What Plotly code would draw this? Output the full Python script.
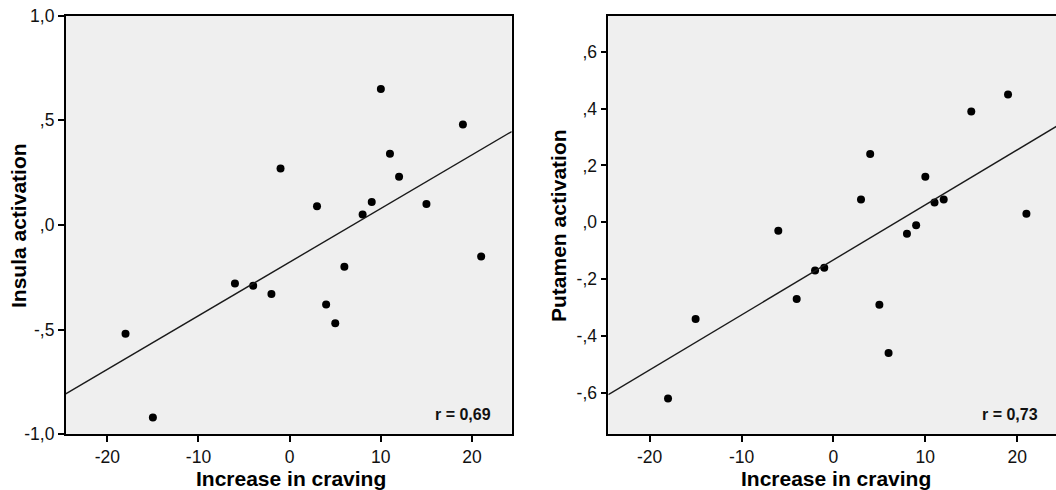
import numpy as np
import plotly.graph_objects as go

# ---- data ----
craving = [-18, -15, -6, -4, -2, -1, 3, 4, 5, 6, 8, 9, 10, 11, 12, 15, 19, 21]
insula = [-0.52, -0.92, -0.28, -0.29, -0.33, 0.27, 0.09, -0.38, -0.47, -0.20,
          0.05, 0.11, 0.65, 0.34, 0.23, 0.10, 0.48, -0.15]
putamen = [-0.62, -0.34, -0.03, -0.27, -0.17, -0.16, 0.08, 0.24, -0.29, -0.46,
           -0.04, -0.01, 0.16, 0.07, 0.08, 0.39, 0.45, 0.03]

x_ticks = [-20, -10, 0, 10, 20]
x_ticktext = ["-20", "-10", "0", "10", "20"]
ins_ticks = [-1.0, -0.5, 0.0, 0.5, 1.0]
ins_ticktext = ["-1,0", "-,5", ",0", ",5", "1,0"]
put_ticks = [-0.6, -0.4, -0.2, 0.0, 0.2, 0.4, 0.6]
put_ticktext = ["-,6", "-,4", "-,2", ",0", ",2", ",4", ",6"]

r_labels = ["r = 0,69", "r = 0,73"]
x_title = "Increase in craving"
y_titles = ["Insula activation", "Putamen activation"]

# ---- layout constants ----
W, H = 1056, 490
FONT = "Liberation Sans, Arial, Helvetica, sans-serif"
x1_range = [-24.56, 24.35]
x2_range = [-24.5, 24.22]
x2_full_end = 24.45
y1_range = [-1.0, 1.0]
y2_range = [-0.746, 0.727]

fig = go.Figure()

def add_panel(y, xa, ya, xr, xr_end):
    fig.add_trace(go.Scatter(
        x=craving, y=y, mode="markers", xaxis=xa, yaxis=ya,
        marker=dict(color="black", size=8, line=dict(width=0)),
        showlegend=False, hoverinfo="x+y"))
    slope, intercept = np.polyfit(craving, y, 1)
    xs = np.array([xr[0], xr_end])
    fig.add_trace(go.Scatter(
        x=xs, y=slope * xs + intercept, mode="lines", xaxis=xa, yaxis=ya,
        line=dict(color="#1a1a1a", width=1.4), showlegend=False,
        hoverinfo="skip"))

add_panel(insula, "x", "y", x1_range, x1_range[1])
add_panel(putamen, "x2", "y2", x2_range, x2_full_end)

axis_common = dict(
    showgrid=False, zeroline=False, showline=True, linecolor="black",
    linewidth=1.6, ticks="outside", ticklen=6, tickwidth=1.6,
    tickcolor="black", tickfont=dict(family=FONT, size=17.5, color="#111"),
    automargin=False,
)

ydom = [55.7 / H, 474.3 / H]

fig.update_layout(
    width=W, height=H,
    margin=dict(l=0, r=0, t=0, b=0, pad=0, autoexpand=False),
    paper_bgcolor="white",
    plot_bgcolor="#efefef",
    xaxis=dict(domain=[65.7 / W, 511.7 / W], range=x1_range,
               tickvals=x_ticks, ticktext=x_ticktext, mirror=True,
               anchor="y", **axis_common),
    yaxis=dict(domain=ydom, range=y1_range, tickvals=ins_ticks,
               ticktext=ins_ticktext, mirror=True, anchor="x",
               **axis_common),
    xaxis2=dict(domain=[608.3 / W, 1.0], range=x2_range,
                tickvals=x_ticks, ticktext=x_ticktext, mirror=True,
                anchor="y2", **axis_common),
    yaxis2=dict(domain=ydom, range=y2_range, tickvals=put_ticks,
                ticktext=put_ticktext, mirror=False, anchor="x2",
                **axis_common),
)

title_font = dict(family=FONT, size=21, color="black", weight="bold")

fig.add_annotation(text=x_title, xref="paper", yref="paper",
                   x=291 / W, y=(H - 478) / H, xanchor="center",
                   yanchor="middle", showarrow=False, font=title_font)
fig.add_annotation(text=x_title, xref="paper", yref="paper",
                   x=836 / W, y=(H - 478) / H, xanchor="center",
                   yanchor="middle", showarrow=False, font=title_font)
fig.add_annotation(text=y_titles[0], xref="paper", yref="paper",
                   x=18 / W, y=(H - 226) / H, xanchor="center",
                   yanchor="middle", textangle=-90, showarrow=False,
                   font=title_font)
fig.add_annotation(text=y_titles[1], xref="paper", yref="paper",
                   x=558 / W, y=(H - 226) / H, xanchor="center",
                   yanchor="middle", textangle=-90, showarrow=False,
                   font=title_font)

r_font = dict(family=FONT, size=16, color="#111", weight="bold")
fig.add_annotation(text=r_labels[0], xref="paper", yref="paper",
                   x=493 / W, y=(H - 414.5) / H, xanchor="right",
                   yanchor="middle", showarrow=False, font=r_font)
fig.add_annotation(text=r_labels[1], xref="paper", yref="paper",
                   x=1039.5 / W, y=(H - 414.5) / H, xanchor="right",
                   yanchor="middle", showarrow=False, font=r_font)

fig.write_html(
    "out.html",
    config={"displayModeBar": False},
    post_script="document.body.style.margin='0px';"
                "document.body.style.overflow='hidden';"
                "document.documentElement.style.overflow='hidden';",
)
